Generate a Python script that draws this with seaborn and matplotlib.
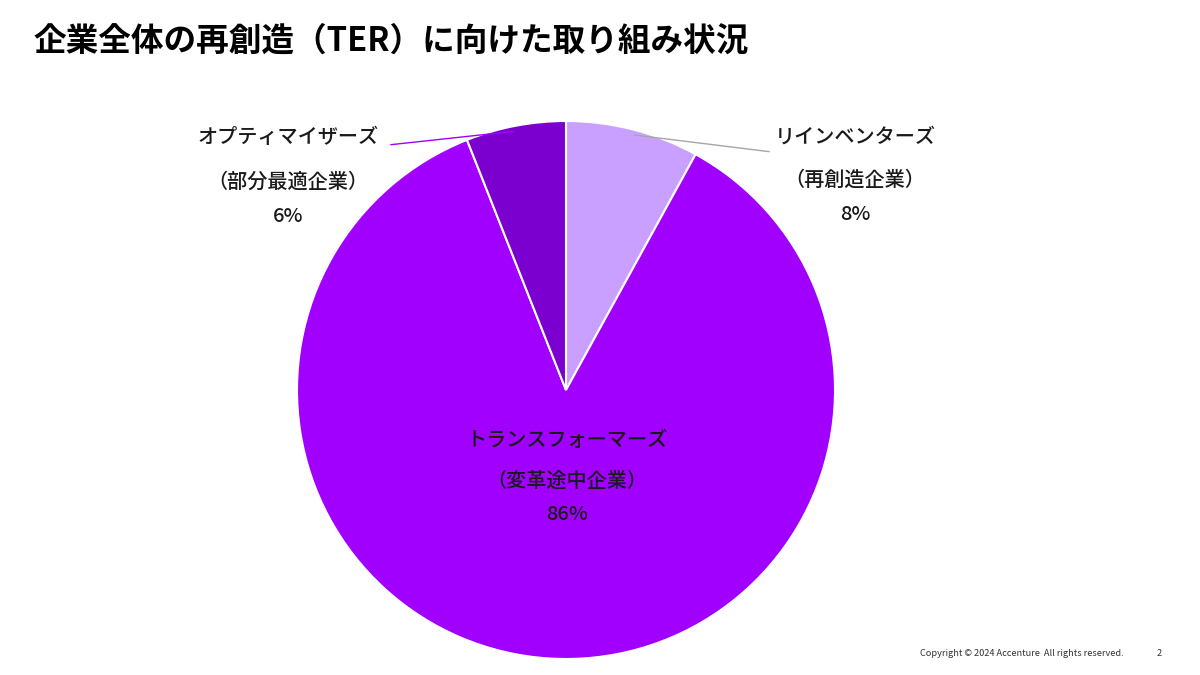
import matplotlib
matplotlib.use("Agg")
import matplotlib.pyplot as plt
import seaborn as sns
import numpy as np

# data
categories = ["リインベンターズ", "トランスフォーマーズ", "オプティマイザーズ"]
subtitles = ["（再創造企業）", "（変革途中企業）", "（部分最適企業）"]
values = [8, 86, 6]
colors = ["#C9A0FF", "#A100FF", "#7B00D0"]
title = "企業全体の再創造（TER）に向けた取り組み状況"
footer = "Copyright © 2024 Accenture  All rights reserved."
page = "2"

sns.set_theme(style="white")
plt.rcParams["font.family"] = ["Noto Sans CJK JP", "DejaVu Sans"]

W, H = 1200, 675
fig = plt.figure(figsize=(12, 6.75), dpi=100)
fig.patch.set_facecolor("white")

cx, cy, r = 566, 390, 269
ax = fig.add_axes([(cx - r) / W, (H - cy - r) / H, 2 * r / W, 2 * r / H])
wedges, _ = ax.pie(values, colors=colors, startangle=90, counterclock=False,
                   radius=1, wedgeprops=dict(edgecolor="white", linewidth=1.5))
ax.set_xlim(-1, 1)
ax.set_ylim(-1, 1)
ax.set_aspect("equal")
ax.axis("off")

fig.text(33 / W, 1 - 41 / H, title, fontsize=23.5, fontweight="bold",
         ha="left", va="center", color="black")

def fig_to_ax(px, py):
    # pixel coords (from top-left) -> data coords of the pie axes
    return ((px - cx) / r, (cy - py) / r)

label_cfg = [
    (855, (137, 180, 214), (772, 152), "#A6A6A6"),
    (567, (440, 481, 515), None, None),
    (288, (137, 182, 216), (388, 145), "#A100FF"),
]
for w, cat, sub, v, (lx, ys, lend, lc) in zip(wedges, categories, subtitles, values, label_cfg):
    for txt, yy in zip([cat, sub, f"{v}%"], ys):
        x, y = fig_to_ax(lx, yy)
        ax.text(x, y, txt, ha="center", va="center", fontsize=14.5,
                fontweight="medium", color="#1a1a1a")
    if lend is not None:
        ang = np.deg2rad((w.theta1 + w.theta2) / 2)
        xy = (0.98 * np.cos(ang), 0.98 * np.sin(ang))
        ex, ey = fig_to_ax(*lend)
        ax.annotate("", xy=xy, xytext=(ex, ey),
                    arrowprops=dict(arrowstyle="-", color=lc, lw=1),
                    annotation_clip=False)

fig.text(920 / W, 1 - 653 / H, footer, fontsize=6.6, ha="left", va="center", color="#333333")
fig.text(1157 / W, 1 - 653 / H, page, fontsize=6.6, ha="left", va="center", color="#333333")

fig.savefig("out.png", dpi=100)
